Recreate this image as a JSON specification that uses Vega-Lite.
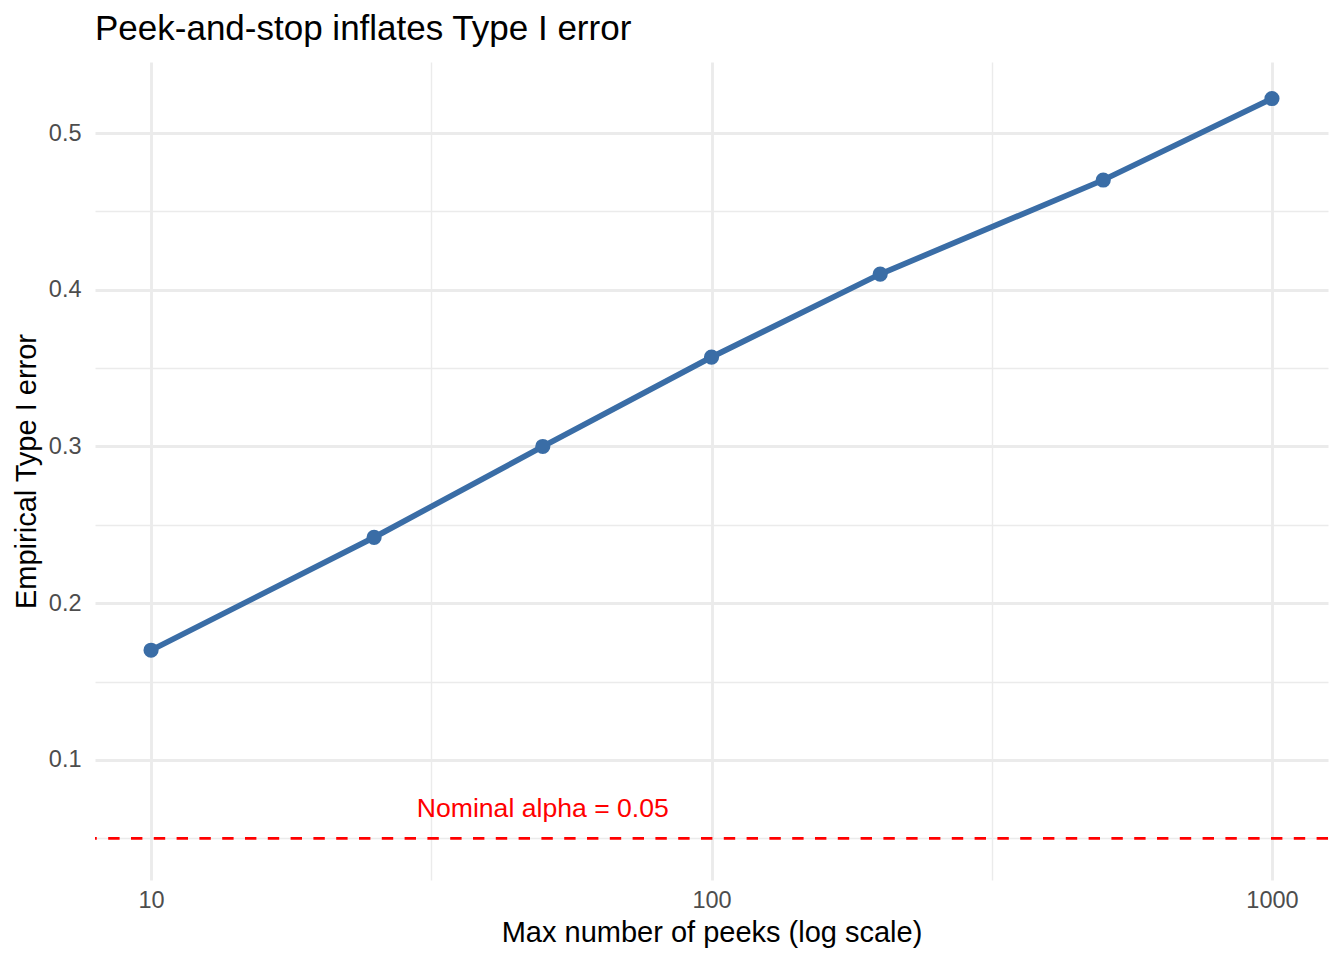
{
  "$schema": "https://vega.github.io/schema/vega-lite/v6.json",
  "width": 1233,
  "height": 818,
  "autosize": {"type": "none"},
  "padding": {"left": 95, "top": 62, "right": 16, "bottom": 80},
  "background": "white",
  "config": {
    "font": "Liberation Sans",
    "view": {"stroke": null},
    "axis": {"domain": false, "ticks": false, "tickSize": 0, "gridColor": "#EBEBEB"}
  },
  "title": {
    "text": "Peek-and-stop inflates Type I error",
    "anchor": "start",
    "frame": "group",
    "fontSize": 35,
    "fontWeight": "normal",
    "color": "#000000",
    "baseline": "alphabetic",
    "offset": 22,
    "dy": 35
  },
  "datasets": {
    "sim": [
      {"peeks": 10, "err": 0.170},
      {"peeks": 25, "err": 0.242},
      {"peeks": 50, "err": 0.300},
      {"peeks": 100, "err": 0.357},
      {"peeks": 200, "err": 0.410},
      {"peeks": 500, "err": 0.470},
      {"peeks": 1000, "err": 0.522}
    ],
    "ref": [{"alpha": 0.05, "peeks": 50, "labelY": 0.07, "label": "Nominal alpha = 0.05"}]
  },
  "layer": [
    {
      "data": {"name": "ref"},
      "mark": {"type": "rule", "color": "#FF0000", "strokeWidth": 2.8, "strokeDash": [11.4, 11.4]},
      "encoding": {
        "y": {
          "field": "alpha",
          "type": "quantitative",
          "scale": {"domain": [0.0234, 0.5453], "nice": false, "zero": false},
          "axis": {
            "title": "Empirical Type I error",
            "titleFontSize": 29,
            "titleFontWeight": "normal",
            "titleColor": "#000000",
            "titleAngle": -90,
            "titleBaseline": "alphabetic",
            "titleAlign": "center",
            "titleX": -60,
            "titleY": 409,
            "values": [0.05, 0.1, 0.15, 0.2, 0.25, 0.3, 0.35, 0.4, 0.45, 0.5],
            "labelExpr": "abs(datum.value*10 - round(datum.value*10)) < 0.001 ? format(datum.value, '.1f') : ''",
            "labelFontSize": 23.5,
            "labelColor": "#4D4D4D",
            "labelPadding": 14,
            "labelBaseline": "middle",
            "gridWidth": {"condition": {"test": "abs(datum.value*10 - round(datum.value*10)) < 0.001", "value": 2.84}, "value": 1.42}
          }
        }
      }
    },
    {
      "data": {"name": "ref"},
      "mark": {"type": "text", "color": "#FF0000", "fontSize": 26.6, "align": "center", "baseline": "middle", "dy": 2},
      "encoding": {
        "x": {"field": "peeks", "type": "quantitative"},
        "y": {"field": "labelY", "type": "quantitative"},
        "text": {"field": "label"}
      }
    },
    {
      "data": {"name": "sim"},
      "mark": {"type": "line", "color": "#3A6DA6", "strokeWidth": 5.7},
      "encoding": {
        "x": {
          "field": "peeks",
          "type": "quantitative",
          "scale": {"type": "log", "domain": [7.943, 1258.9], "nice": false},
          "axis": {
            "title": "Max number of peeks (log scale)",
            "titleFontSize": 29,
            "titleFontWeight": "normal",
            "titleColor": "#000000",
            "titleBaseline": "alphabetic",
            "titleY": 61,
            "titleX": 616.5,
            "titleAlign": "center",
            "values": [10, 31.6228, 100, 316.228, 1000],
            "labelExpr": "(datum.value == 10 || datum.value == 100 || datum.value == 1000) ? format(datum.value, 'd') : ''",
            "labelFontSize": 23.5,
            "labelColor": "#4D4D4D",
            "labelBaseline": "alphabetic",
            "labelPadding": 27,
            "labelFlush": false,
            "gridWidth": {"condition": {"test": "datum.value == 10 || datum.value == 100 || datum.value == 1000", "value": 2.84}, "value": 1.42}
          }
        },
        "y": {"field": "err", "type": "quantitative"}
      }
    },
    {
      "data": {"name": "sim"},
      "mark": {"type": "point", "filled": true, "opacity": 1, "color": "#3A6DA6", "size": 230},
      "encoding": {
        "x": {"field": "peeks", "type": "quantitative"},
        "y": {"field": "err", "type": "quantitative"}
      }
    }
  ]
}
